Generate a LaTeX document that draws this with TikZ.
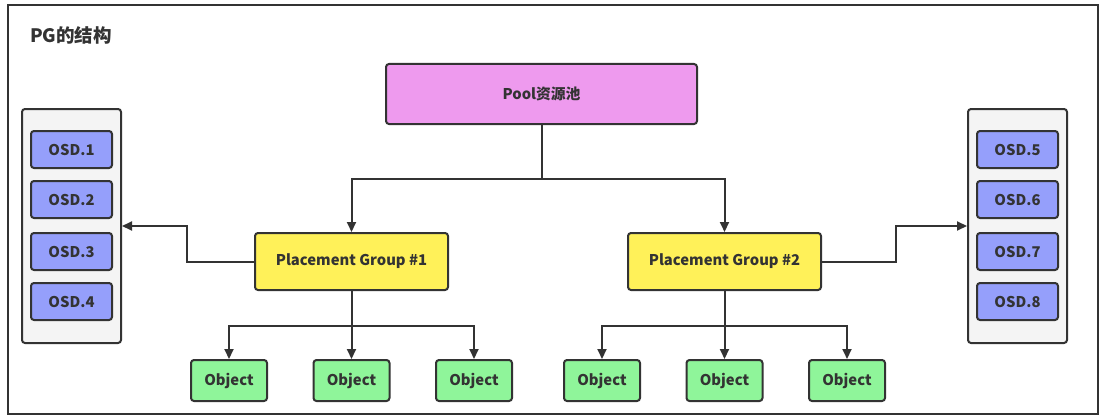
\documentclass[tikz,border=0pt]{standalone}
\usepackage{fontspec}
\setmainfont{Noto Sans CJK SC}
\usetikzlibrary{arrows.meta}
\definecolor{ink}{HTML}{333333}
\definecolor{poolc}{HTML}{EE9AEE}
\definecolor{pgc}{HTML}{FFF159}
\definecolor{osdc}{HTML}{959FFB}
\definecolor{objc}{HTML}{8FF59A}
\definecolor{contc}{HTML}{F4F4F4}
\tikzset{
  box/.style={draw=ink, line width=2pt, rounded corners=3pt, text=ink,
    font=\bfseries\fontsize{14.8}{17}\selectfont, inner sep=0pt},
  poolbox/.style={box, fill=poolc, minimum width=311pt, minimum height=60pt},
  pgbox/.style={box, fill=pgc, minimum width=193pt, minimum height=57pt},
  osdbox/.style={box, fill=osdc, minimum width=81pt, minimum height=37pt},
  objbox/.style={box, fill=objc, minimum width=76pt, minimum height=41pt},
  contbox/.style={draw=ink, line width=2pt, rounded corners=3pt, fill=contc,
    minimum width=99pt, minimum height=234pt, inner sep=0pt},
  conn/.style={draw=ink, line width=2pt, -{Triangle[length=10pt,width=9pt]}},
}
\begin{document}
\begin{tikzpicture}[x=1pt,y=-1pt]
\useasboundingbox (0,0) rectangle (1105,420);
\fill[white] (0,0) rectangle (1105,420);
\draw[ink, line width=2pt] (8,5) rectangle (1098,414);
\node[anchor=west, inner sep=0pt, text=ink, font=\bfseries\fontsize{18.5}{21}\selectfont] (title) at (30,35) {PG的结构};

\node[poolbox] (pool) at (541.5,94) {Pool资源池};
\node[pgbox] (pg1) at (351.5,261.5) {Placement Group \#1};
\node[pgbox] (pg2) at (724.5,261.5) {Placement Group \#2};

\node[contbox] (lc) at (71.5,226) {};
\node[contbox] (rc) at (1017.5,226) {};
\node[osdbox] (o1) at (71.5,149.5) {OSD.1};
\node[osdbox] (o2) at (71.5,199.5) {OSD.2};
\node[osdbox] (o3) at (71.5,251.5) {OSD.3};
\node[osdbox] (o4) at (71.5,301.5) {OSD.4};
\node[osdbox] (o5) at (1017.5,149.5) {OSD.5};
\node[osdbox] (o6) at (1017.5,199.5) {OSD.6};
\node[osdbox] (o7) at (1017.5,251.5) {OSD.7};
\node[osdbox] (o8) at (1017.5,301.5) {OSD.8};

\node[objbox] (ob1) at (229,380.5) {Object};
\node[objbox] (ob2) at (351.5,380.5) {Object};
\node[objbox] (ob3) at (474,380.5) {Object};
\node[objbox] (ob4) at (602,380.5) {Object};
\node[objbox] (ob5) at (724.5,380.5) {Object};
\node[objbox] (ob6) at (847,380.5) {Object};

\draw[conn] (pool.south) -- ++(0,54) -| (pg1.north);
\draw[conn] (pool.south) -- ++(0,54) -| (pg2.north);

\draw[conn] (pg1.west) -- ++(-67,0) |- (lc.east);
\draw[conn] (pg2.east) -- ++(74,0) |- (rc.west);

\draw[conn] (pg1.south) -- ++(0,35) -| (ob1.north);
\draw[conn] (pg1.south) -- (ob2.north);
\draw[conn] (pg1.south) -- ++(0,35) -| (ob3.north);
\draw[conn] (pg2.south) -- ++(0,35) -| (ob4.north);
\draw[conn] (pg2.south) -- (ob5.north);
\draw[conn] (pg2.south) -- ++(0,35) -| (ob6.north);
\end{tikzpicture}
\end{document}
